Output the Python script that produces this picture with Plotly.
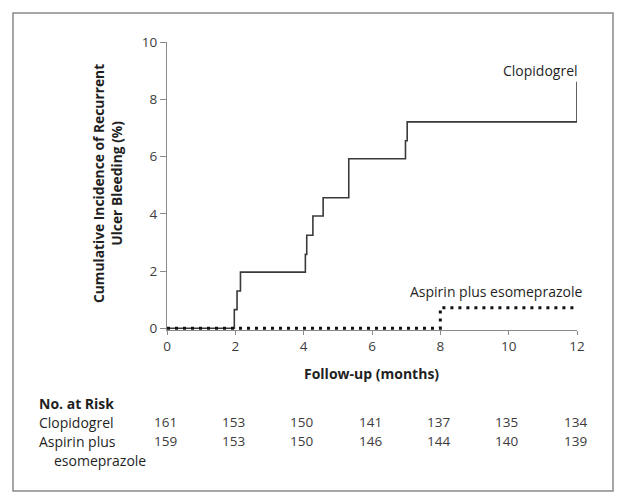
import plotly.graph_objects as go

# Kaplan-Meier style cumulative incidence (%)
clop_months = [0, 1.97, 2.05, 2.15, 4.05, 4.09, 4.27, 4.57, 5.32, 6.98, 7.03, 12.0]
clop_pct = [0, 0.65, 1.30, 1.96, 2.58, 3.25, 3.92, 4.56, 5.92, 6.55, 7.21, 8.61]

asp_months = [0, 8.0, 11.95]
asp_pct = [0, 0.72, 0.72]

# No. at risk table
risk_months = [0, 2, 4, 6, 8, 10, 12]
risk_clop = [161, 153, 150, 141, 137, 135, 134]
risk_asp = [159, 153, 150, 146, 144, 140, 139]

FONT = "Open Sans"
INK = "#1f1f1f"
GREY = "#8a8a8a"

# page body has an 8px margin, so work in picture pixels minus 8
OFF = 8
W, H = 623 - OFF, 501 - OFF
PL, PR, PT, PB = 167 - OFF, 577 - OFF, 42 - OFF, 330 - OFF


def fx(px):
    return (px - OFF - PL) / (PR - PL)


def fy(py):
    return (PB - (py - OFF)) / (PB - PT)


fig = go.Figure()

fig.add_trace(go.Scatter(x=clop_months, y=clop_pct, mode="lines",
                         line=dict(shape="hv", color="#3a3a3a", width=1.6),
                         name="Clopidogrel", showlegend=False))
fig.add_trace(go.Scatter(x=asp_months, y=asp_pct, mode="lines",
                         line=dict(shape="hv", color="#111111", width=3, dash="3px,5px"),
                         name="Aspirin plus esomeprazole", showlegend=False))

annots = []
# curve labels
annots.append(dict(x=12, y=9.02, xref="x", yref="y", text="Clopidogrel",
                   xanchor="right", yanchor="middle", xshift=3, showarrow=False,
                   font=dict(size=14, color=INK)))
annots.append(dict(x=12, y=1.27, xref="x", yref="y", text="Aspirin plus esomeprazole",
                   xanchor="right", yanchor="middle", xshift=7, showarrow=False,
                   font=dict(size=14, color=INK)))
# axis titles
annots.append(dict(x=fx(107), y=fy(184), xref="paper", yref="paper",
                   text="<b>Cumulative Incidence of Recurrent<br>Ulcer Bleeding (%)</b>",
                   textangle=-90, xanchor="center", yanchor="middle", showarrow=False,
                   font=dict(size=13.8, color=INK)))
annots.append(dict(x=fx(371), y=fy(373), xref="paper", yref="paper",
                   text="<b>Follow-up (months)</b>", xanchor="center", yanchor="middle",
                   showarrow=False, font=dict(size=14, color=INK)))

# No. at risk
rows = [("<b>No. at Risk</b>", 37, 403), ("Clopidogrel", 37, 422),
        ("Aspirin plus", 37, 441), ("esomeprazole", 52, 460)]
for txt, x, y in rows:
    annots.append(dict(x=fx(x), y=fy(y), xref="paper", yref="paper", text=txt,
                       xanchor="left", yanchor="middle", showarrow=False,
                       font=dict(size=14, color=INK)))
for m, a, b in zip(risk_months, risk_clop, risk_asp):
    annots.append(dict(x=m, y=fy(422), xref="x", yref="paper", text=str(a), xshift=-2,
                       xanchor="center", yanchor="middle", showarrow=False,
                       font=dict(size=13.5, color="#3c3c3c")))
    annots.append(dict(x=m, y=fy(441), xref="x", yref="paper", text=str(b), xshift=-2,
                       xanchor="center", yanchor="middle", showarrow=False,
                       font=dict(size=13.5, color="#3c3c3c")))

fig.update_layout(
    width=W, height=H,
    margin=dict(l=PL, r=W - PR, t=PT, b=H - PB),
    paper_bgcolor="white", plot_bgcolor="white",
    font=dict(family=FONT, color=INK),
    showlegend=False,
    annotations=annots,
    shapes=[dict(type="rect", xref="paper", yref="paper",
                 x0=fx(13), x1=fx(613), y0=fy(491), y1=fy(13),
                 line=dict(color=GREY, width=1.5), layer="below")],
    xaxis=dict(range=[0, 12], tickmode="array", tickvals=risk_months,
               showgrid=False, zeroline=False, showline=True, linecolor=GREY, linewidth=1,
               ticks="outside", ticklen=4, tickcolor=GREY,
               tickfont=dict(size=13.5, color="#3c3c3c")),
    yaxis=dict(range=[-0.06, 10], tickmode="array", tickvals=[0, 2, 4, 6, 8, 10],
               showgrid=False, zeroline=False, showline=True, linecolor=GREY, linewidth=1,
               ticks="outside", ticklen=6, tickcolor=GREY,
               tickfont=dict(size=13.5, color="#3c3c3c")),
)

fig.write_html("out.html")
